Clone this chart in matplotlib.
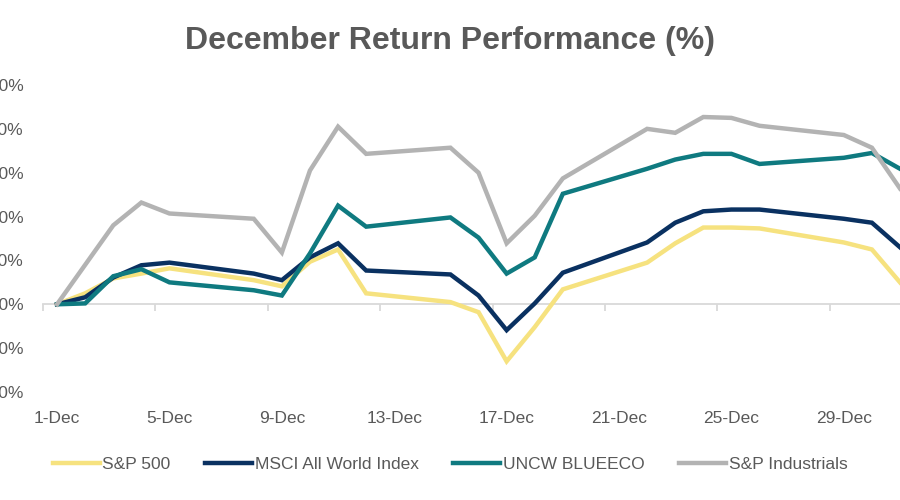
import matplotlib
matplotlib.use("Agg")
import matplotlib.pyplot as plt

days = [1, 2, 3, 4, 5, 8, 9, 10, 11, 12, 15, 16, 17, 18, 19, 22, 23, 24, 25, 26, 29, 30, 31]

sp500 = [0, 0.25, 0.59, 0.70, 0.82, 0.55, 0.41, 0.97, 1.25, 0.25, 0.05, -0.18, -1.30,
         -0.52, 0.34, 0.95, 1.39, 1.75, 1.75, 1.73, 1.41, 1.25, 0.50]
msci = [0, 0.16, 0.61, 0.89, 0.95, 0.70, 0.55, 1.07, 1.39, 0.77, 0.68, 0.20, -0.59,
        0.02, 0.72, 1.41, 1.86, 2.12, 2.16, 2.16, 1.95, 1.86, 1.30]
blueeco = [0, 0.02, 0.64, 0.80, 0.50, 0.32, 0.20, 1.16, 2.25, 1.77, 1.98, 1.52, 0.70,
           1.07, 2.52, 3.09, 3.30, 3.43, 3.43, 3.20, 3.34, 3.45, 3.09]
industrials = [0, 0.90, 1.80, 2.32, 2.07, 1.95, 1.18, 3.05, 4.05, 3.43, 3.57, 3.00, 1.39,
               2.02, 2.87, 4.00, 3.91, 4.27, 4.25, 4.07, 3.86, 3.57, 2.64]

series_names = ["S&P 500", "MSCI All World Index", "UNCW BLUEECO", "S&P Industrials"]
colors = ["#F6E27F", "#0A3161", "#0F7A80", "#B3B3B3"]

label_days = [1, 5, 9, 13, 17, 21, 25, 29]
tick_days = [0.5, 4.5, 8.5, 12.5, 16.5, 20.5, 24.5, 28.5]
y_ticks = [-2, -1, 0, 1, 2, 3, 4, 5]

txt = "#595959"
axis_col = "#D9D9D9"

fig = plt.figure(figsize=(9, 5), dpi=100)
ax = fig.add_axes([0.0478, 0.216, 0.9522, 0.614])

for vals, name, c in zip([sp500, msci, blueeco, industrials], series_names, colors):
    ax.plot(days, vals, color=c, lw=3.2, label=name, solid_joinstyle="miter")

ax.set_xlim(0.5, 31)
ax.set_ylim(-2, 5)

ax.set_xticks(label_days)
ax.set_xticklabels([f"{d}-Dec" for d in label_days], fontsize=12.5, color=txt,
                   family="Liberation Sans")
ax.set_yticks(y_ticks)
ax.set_yticklabels([f"{v:.1f}%" for v in y_ticks], fontsize=12.5, color=txt,
                   family="Liberation Sans")
ax.tick_params(axis="x", length=0, pad=14)
ax.tick_params(axis="y", length=0, pad=14)
for s in ax.spines.values():
    s.set_visible(False)

# axis line crossing at zero, tick marks between categories
zero_loc = (0 - ax.get_ylim()[0]) / (ax.get_ylim()[1] - ax.get_ylim()[0])
sec = ax.secondary_xaxis(zero_loc)
sec.set_xticks(tick_days)
sec.set_xticklabels([])
sec.tick_params(length=5, width=1.3, color=axis_col, direction="out")
sec.spines["bottom"].set_color(axis_col)
sec.spines["bottom"].set_linewidth(1.3)

fig.text(0.5, 0.918, "December Return Performance (%)", ha="center", va="center",
         fontsize=23, fontweight="bold", color=txt, family="Liberation Sans")

leg = fig.legend(loc="center", bbox_to_anchor=(0.5, 0.072), ncol=4, frameon=False,
                 handlelength=2.7, handletextpad=0.15, columnspacing=2.0,
                 prop={"family": "Liberation Sans", "size": 12.5})
for t in leg.get_texts():
    t.set_color(txt)

fig.savefig("out.png", dpi=100)
